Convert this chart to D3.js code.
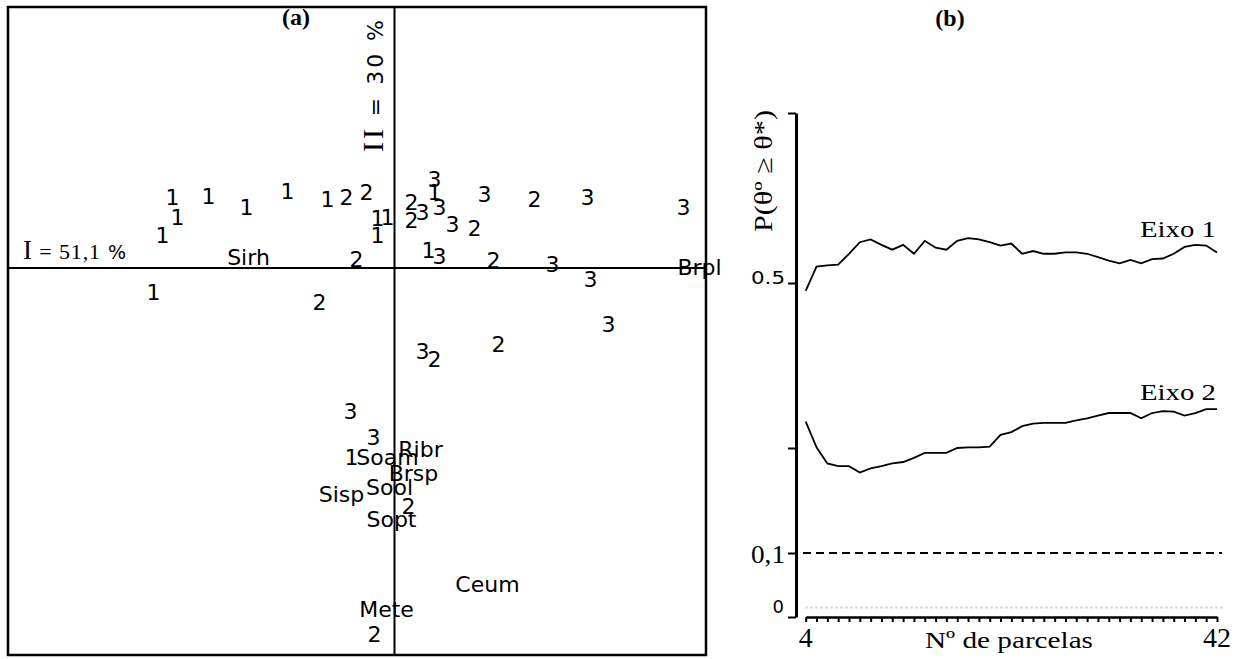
<!DOCTYPE html>
<html>
<head>
<meta charset="utf-8">
<script src="https://cdn.jsdelivr.net/npm/d3@7"></script>
<style>
  body { margin: 0; background: #fff; }
  svg { display: block; }
</style>
</head>
<body>
<svg id="chart" width="1247" height="659"></svg>
<script>
// ---------- Panel (a): ordination diagram ----------
// plot scores on axes I and II, labelled by group
const group1Scores = [
  [-2.22, 0.71], [-1.86, 0.72], [-1.48, 0.61], [-1.07, 0.77], [-0.67, 0.69],
  [-2.17, 0.51], [-2.32, 0.33], [-0.17, 0.33], [-0.17, 0.50], [-0.07, 0.51],
  [-2.41, -0.24], [0.40, 0.76], [0.34, 0.18], [-0.43, -1.89]
];
const group2Scores = [
  [-0.48, 0.71], [-0.28, 0.76], [-0.38, 0.09], [-0.75, -0.34], [0.17, 0.66],
  [0.17, 0.48], [0.80, 0.40], [1.40, 0.69], [0.99, 0.08], [1.04, -0.76],
  [0.40, -0.91], [0.14, -2.38], [-0.20, -3.66]
];
const group3Scores = [
  [0.40, 0.89], [0.45, 0.61], [0.28, 0.56], [0.58, 0.44], [0.90, 0.74],
  [1.93, 0.71], [2.89, 0.61], [0.45, 0.12], [1.58, 0.04], [1.96, -0.11],
  [2.14, -0.56], [0.28, -0.83], [-0.44, -1.43], [-0.21, -1.69]
];
const groupLabels = ["1", "2", "3"];

// species scores
const speciesNames = ["Sirh", "Brpl", "Soam", "Ribr", "Brsp", "Sool", "Sisp", "Sopt", "Ceum", "Mete"];
const speciesScores = [
  [-1.46, 0.11], [3.05, 0.01], [-0.07, -1.89], [0.26, -1.81], [0.19, -2.05],
  [-0.05, -2.19], [-0.53, -2.26], [-0.03, -2.51], [0.93, -3.16], [-0.08, -3.41]
];
const inertiaAxis1 = "51,1";
const inertiaAxis2 = "30";

// ---------- Panel (b): stability of the axes ----------
const plotCounts = [4, 5, 6, 7, 8, 9, 10, 11, 12, 13, 14, 15, 16, 17, 18, 19, 20, 21, 22, 23,
  24, 25, 26, 27, 28, 29, 30, 31, 32, 33, 34, 35, 36, 37, 38, 39, 40, 41, 42];
const eixo1Prob = [0.488, 0.524, 0.526, 0.527, 0.543, 0.560, 0.564, 0.556, 0.549, 0.556,
  0.543, 0.562, 0.552, 0.549, 0.562, 0.566, 0.564, 0.560, 0.555, 0.558,
  0.543, 0.547, 0.543, 0.543, 0.545, 0.545, 0.543, 0.538, 0.533, 0.529,
  0.534, 0.529, 0.535, 0.536, 0.543, 0.553, 0.556, 0.555, 0.545];
const eixo2Prob = [0.290, 0.251, 0.228, 0.224, 0.224, 0.215, 0.221, 0.224, 0.228, 0.230,
  0.236, 0.243, 0.243, 0.243, 0.250, 0.251, 0.251, 0.252, 0.270, 0.274,
  0.283, 0.287, 0.288, 0.288, 0.288, 0.292, 0.295, 0.299, 0.303, 0.303,
  0.303, 0.295, 0.303, 0.306, 0.305, 0.299, 0.303, 0.309, 0.309];
const seriesNames = ["Eixo 1", "Eixo 2"];
const significanceLevel = 0.1;
const floorLevel = 0.015;
const probTicks = [0, 0.1, 0.25, 0.5, 0.75];
const probTickLabels = ["0", "0,1", "", "0.5", ""];
const countTickLabels = [4, 42];

const svg = d3.select("#chart");
const SANS = "'DejaVu Sans', sans-serif";
const SERIF = "'Liberation Serif', 'Times New Roman', serif";

// ===== Panel (a) =====
const xa = d3.scaleLinear().domain([-3.865, 3.115]).range([8, 706]);
const ya = d3.scaleLinear().domain([-3.87, 2.61]).range([655, 7]);
const pa = svg.append("g");

pa.append("rect")
  .attr("x", xa.range()[0]).attr("y", ya.range()[1])
  .attr("width", xa.range()[1] - xa.range()[0])
  .attr("height", ya.range()[0] - ya.range()[1])
  .attr("fill", "none").attr("stroke", "#000").attr("stroke-width", 2.5);

pa.append("line")
  .attr("x1", xa.range()[0]).attr("x2", xa.range()[1])
  .attr("y1", ya(0)).attr("y2", ya(0))
  .attr("stroke", "#000").attr("stroke-width", 2);
pa.append("line")
  .attr("x1", xa(0)).attr("x2", xa(0))
  .attr("y1", ya.range()[1]).attr("y2", ya.range()[0])
  .attr("stroke", "#000").attr("stroke-width", 2);

const sites = [];
[group1Scores, group2Scores, group3Scores].forEach((arr, gi) =>
  arr.forEach(d => sites.push({ x: d[0], y: d[1], label: groupLabels[gi] })));
speciesNames.forEach((name, i) =>
  sites.push({ x: speciesScores[i][0], y: speciesScores[i][1], label: name }));

pa.append("g").selectAll("text")
  .data(sites).join("text")
  .attr("x", d => xa(d.x))
  .attr("y", d => ya(d.y))
  .attr("dy", "0.36em")
  .attr("text-anchor", "middle")
  .attr("font-family", SANS)
  .attr("font-size", 22)
  .attr("fill", "#000")
  .text(d => d.label);

// axis inertia labels
const lab1 = pa.append("text")
  .attr("x", 23).attr("y", 259)
  .attr("textLength", 103).attr("lengthAdjust", "spacing")
  .attr("fill", "#000");
lab1.append("tspan").attr("font-family", SERIF).attr("font-size", 27).text("I");
lab1.append("tspan").attr("font-family", SERIF).attr("font-size", 22).text(" = " + inertiaAxis1);
lab1.append("tspan").attr("font-family", SANS).attr("font-size", 19).text(" %");

const lab2 = pa.append("text")
  .attr("transform", "translate(383,152) rotate(-90)")
  .attr("textLength", 132).attr("lengthAdjust", "spacing")
  .attr("fill", "#000");
lab2.append("tspan").attr("font-family", SERIF).attr("font-size", 30).text("II");
lab2.append("tspan").attr("font-family", SANS).attr("font-size", 22).text(" = " + inertiaAxis2 + "  %");

pa.append("text")
  .attr("x", 296).attr("y", 25)
  .attr("text-anchor", "middle")
  .attr("font-family", SERIF).attr("font-weight", "bold").attr("font-size", 24)
  .text("(a)");

// ===== Panel (b) =====
const xb = d3.scaleLinear().domain([4, 42]).range([805.7, 1217]);
const yb = d3.scaleLinear().domain(probTicks).range([617, 553, 448, 283, 113]);
const pb = svg.append("g");

pb.append("text")
  .attr("x", 950).attr("y", 26)
  .attr("text-anchor", "middle")
  .attr("font-family", SERIF).attr("font-weight", "bold").attr("font-size", 24)
  .text("(b)");

// y axis
const yAxis = pb.append("g")
  .attr("transform", "translate(796,0)")
  .call(d3.axisLeft(yb).tickValues(probTicks).tickFormat("").tickSize(8).tickSizeOuter(0));
yAxis.select(".domain").attr("stroke", "#000").attr("stroke-width", 3);
yAxis.selectAll(".tick line").attr("stroke", "#000").attr("stroke-width", 2);

// x axis
const xAxis = pb.append("g")
  .attr("transform", "translate(0,617)")
  .call(d3.axisBottom(xb).tickValues(plotCounts).tickFormat("").tickSize(5).tickSizeOuter(0));
xAxis.select(".domain").attr("stroke", "#000").attr("stroke-width", 2.5);
xAxis.selectAll(".tick line").attr("stroke", "#000").attr("stroke-width", 2);

// y tick labels
const yLabelStyle = [
  { font: SANS, size: 18, dy: -4, len: null },
  { font: SERIF, size: 25, dy: 10, len: 34 },
  null,
  { font: SANS, size: 18, dy: 1, len: 34 },
  null
];
probTicks.forEach((v, i) => {
  const st = yLabelStyle[i];
  if (!st || !probTickLabels[i]) return;
  const t = pb.append("text")
    .attr("x", 784).attr("y", yb(v) + st.dy)
    .attr("text-anchor", "end")
    .attr("font-family", st.font).attr("font-size", st.size)
    .text(probTickLabels[i]);
  if (st.len) t.attr("textLength", st.len).attr("lengthAdjust", "spacingAndGlyphs").attr("x", 785 - st.len).attr("text-anchor", "start");
});

// x tick labels
pb.selectAll(".xlab")
  .data(countTickLabels).join("text")
  .attr("class", "xlab")
  .attr("x", d => xb(d)).attr("y", 647)
  .attr("text-anchor", "middle")
  .attr("font-family", SERIF).attr("font-size", 28)
  .text(d => d);

pb.append("text")
  .attr("x", 925).attr("y", 648)
  .attr("textLength", 168).attr("lengthAdjust", "spacingAndGlyphs")
  .attr("font-family", SERIF).attr("font-size", 24)
  .text("Nº de parcelas");

pb.append("text")
  .attr("transform", "translate(772,171) rotate(-90)")
  .attr("text-anchor", "middle")
  .attr("textLength", 122).attr("lengthAdjust", "spacingAndGlyphs")
  .attr("font-family", SERIF).attr("font-size", 25)
  .text("P(θº ≥ θ*)");

// faint floor line and dashed significance level
pb.append("line")
  .attr("x1", 805).attr("x2", 1225)
  .attr("y1", yb(floorLevel)).attr("y2", yb(floorLevel))
  .attr("stroke", "#dcdcdc").attr("stroke-width", 2).attr("stroke-dasharray", "3,2");

pb.append("line")
  .attr("x1", 803).attr("x2", 1222)
  .attr("y1", yb(significanceLevel)).attr("y2", yb(significanceLevel))
  .attr("stroke", "#000").attr("stroke-width", 2).attr("stroke-dasharray", "8,5");

// probability curves
const line = d3.line().x(d => xb(d.n)).y(d => yb(d.p));
[eixo1Prob, eixo2Prob].forEach((vals) => {
  const pts = plotCounts.map((n, i) => ({ n, p: vals[i] }));
  pb.append("path")
    .datum(pts)
    .attr("d", line)
    .attr("fill", "none").attr("stroke", "#000").attr("stroke-width", 1.8);
});

// series labels
const seriesLabelY = [237, 400];
seriesNames.forEach((name, i) => {
  pb.append("text")
    .attr("x", 1140).attr("y", seriesLabelY[i])
    .attr("textLength", 76).attr("lengthAdjust", "spacingAndGlyphs")
    .attr("font-family", SERIF).attr("font-size", 24)
    .text(name);
});
</script>
</body>
</html>
